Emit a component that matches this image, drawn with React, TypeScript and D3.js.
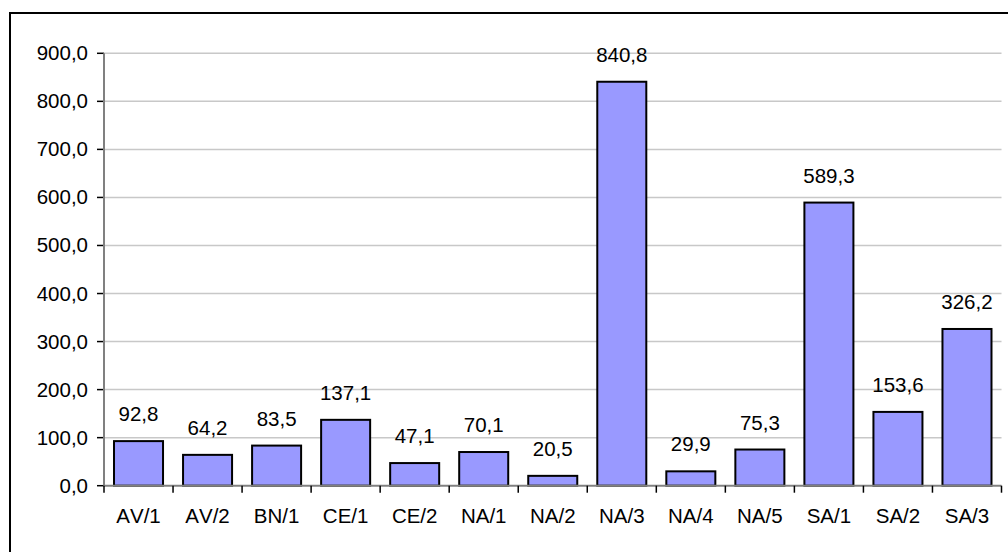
import React from "react";
import * as d3 from "d3";

const categories = ["AV/1", "AV/2", "BN/1", "CE/1", "CE/2", "NA/1", "NA/2", "NA/3", "NA/4", "NA/5", "SA/1", "SA/2", "SA/3"];
const values = [92.8, 64.2, 83.5, 137.1, 47.1, 70.1, 20.5, 840.8, 29.9, 75.3, 589.3, 153.6, 326.2];
const yTicks = [0, 100, 200, 300, 400, 500, 600, 700, 800, 900];

const W = 1008;
const H = 552;
const left = 104;
const right = 1001.5;
const top = 53.3;
const bottom = 485.7;
const font = "'Liberation Sans', Arial, sans-serif";

const fmt = (v: number) => v.toFixed(1).replace(".", ",");

export default function App() {
  const x = d3.scaleBand<string>().domain(categories).range([left, right]).paddingInner(0.29).paddingOuter(0.145);
  const band = d3.scaleBand<string>().domain(categories).range([left, right]).padding(0);
  const y = d3.scaleLinear().domain([0, 900]).range([bottom, top]);

  return (
    <svg width={W} height={H} style={{ position: "absolute", left: 0, top: 0, background: "#fff" }}>
      <rect x={10} y={13} width={W + 20} height={H + 20} fill="#fff" stroke="#000" strokeWidth={2} />
      {yTicks.map((t) =>
        t > 0 ? <line key={"g" + t} x1={left} x2={right} y1={y(t)} y2={y(t)} stroke="#c8c8c8" strokeWidth={1.5} /> : null
      )}
      {yTicks.map((t) => (
        <g key={"t" + t}>
          <line x1={left - 7} x2={left} y1={y(t)} y2={y(t)} stroke="#000" strokeWidth={1.5} />
          <text x={88} y={y(t) + 7} textAnchor="end" fontFamily={font} fontSize={20.5} fill="#000">
            {fmt(t)}
          </text>
        </g>
      ))}
      {categories.map((c, i) => (
        <g key={c}>
          <rect
            x={x(c)}
            y={y(values[i])}
            width={x.bandwidth()}
            height={y(0) - y(values[i])}
            fill="#9999ff"
            stroke="#000"
            strokeWidth={2}
          />
          <text x={(x(c) as number) + x.bandwidth() / 2} y={y(values[i]) - 20} textAnchor="middle" fontFamily={font} fontSize={20.5} fill="#000">
            {fmt(values[i])}
          </text>
          <text
            x={(band(c) as number) + band.bandwidth() / 2}
            y={523}
            textAnchor="middle"
            fontFamily={font}
            fontSize={20.5}
            fill="#000"
            style={{ fontKerning: "none" }}
          >
            {c}
          </text>
        </g>
      ))}
      <line x1={left} x2={left} y1={top} y2={bottom} stroke="#808080" strokeWidth={2} />
      <line x1={left} x2={right} y1={bottom} y2={bottom} stroke="#808080" strokeWidth={2} />
      {categories.concat(["end"]).map((c, i) => {
        const xx = left + i * band.bandwidth();
        return <line key={"xt" + i} x1={xx} x2={xx} y1={bottom} y2={bottom + 7} stroke="#000" strokeWidth={1.5} />;
      })}
    </svg>
  );
}
